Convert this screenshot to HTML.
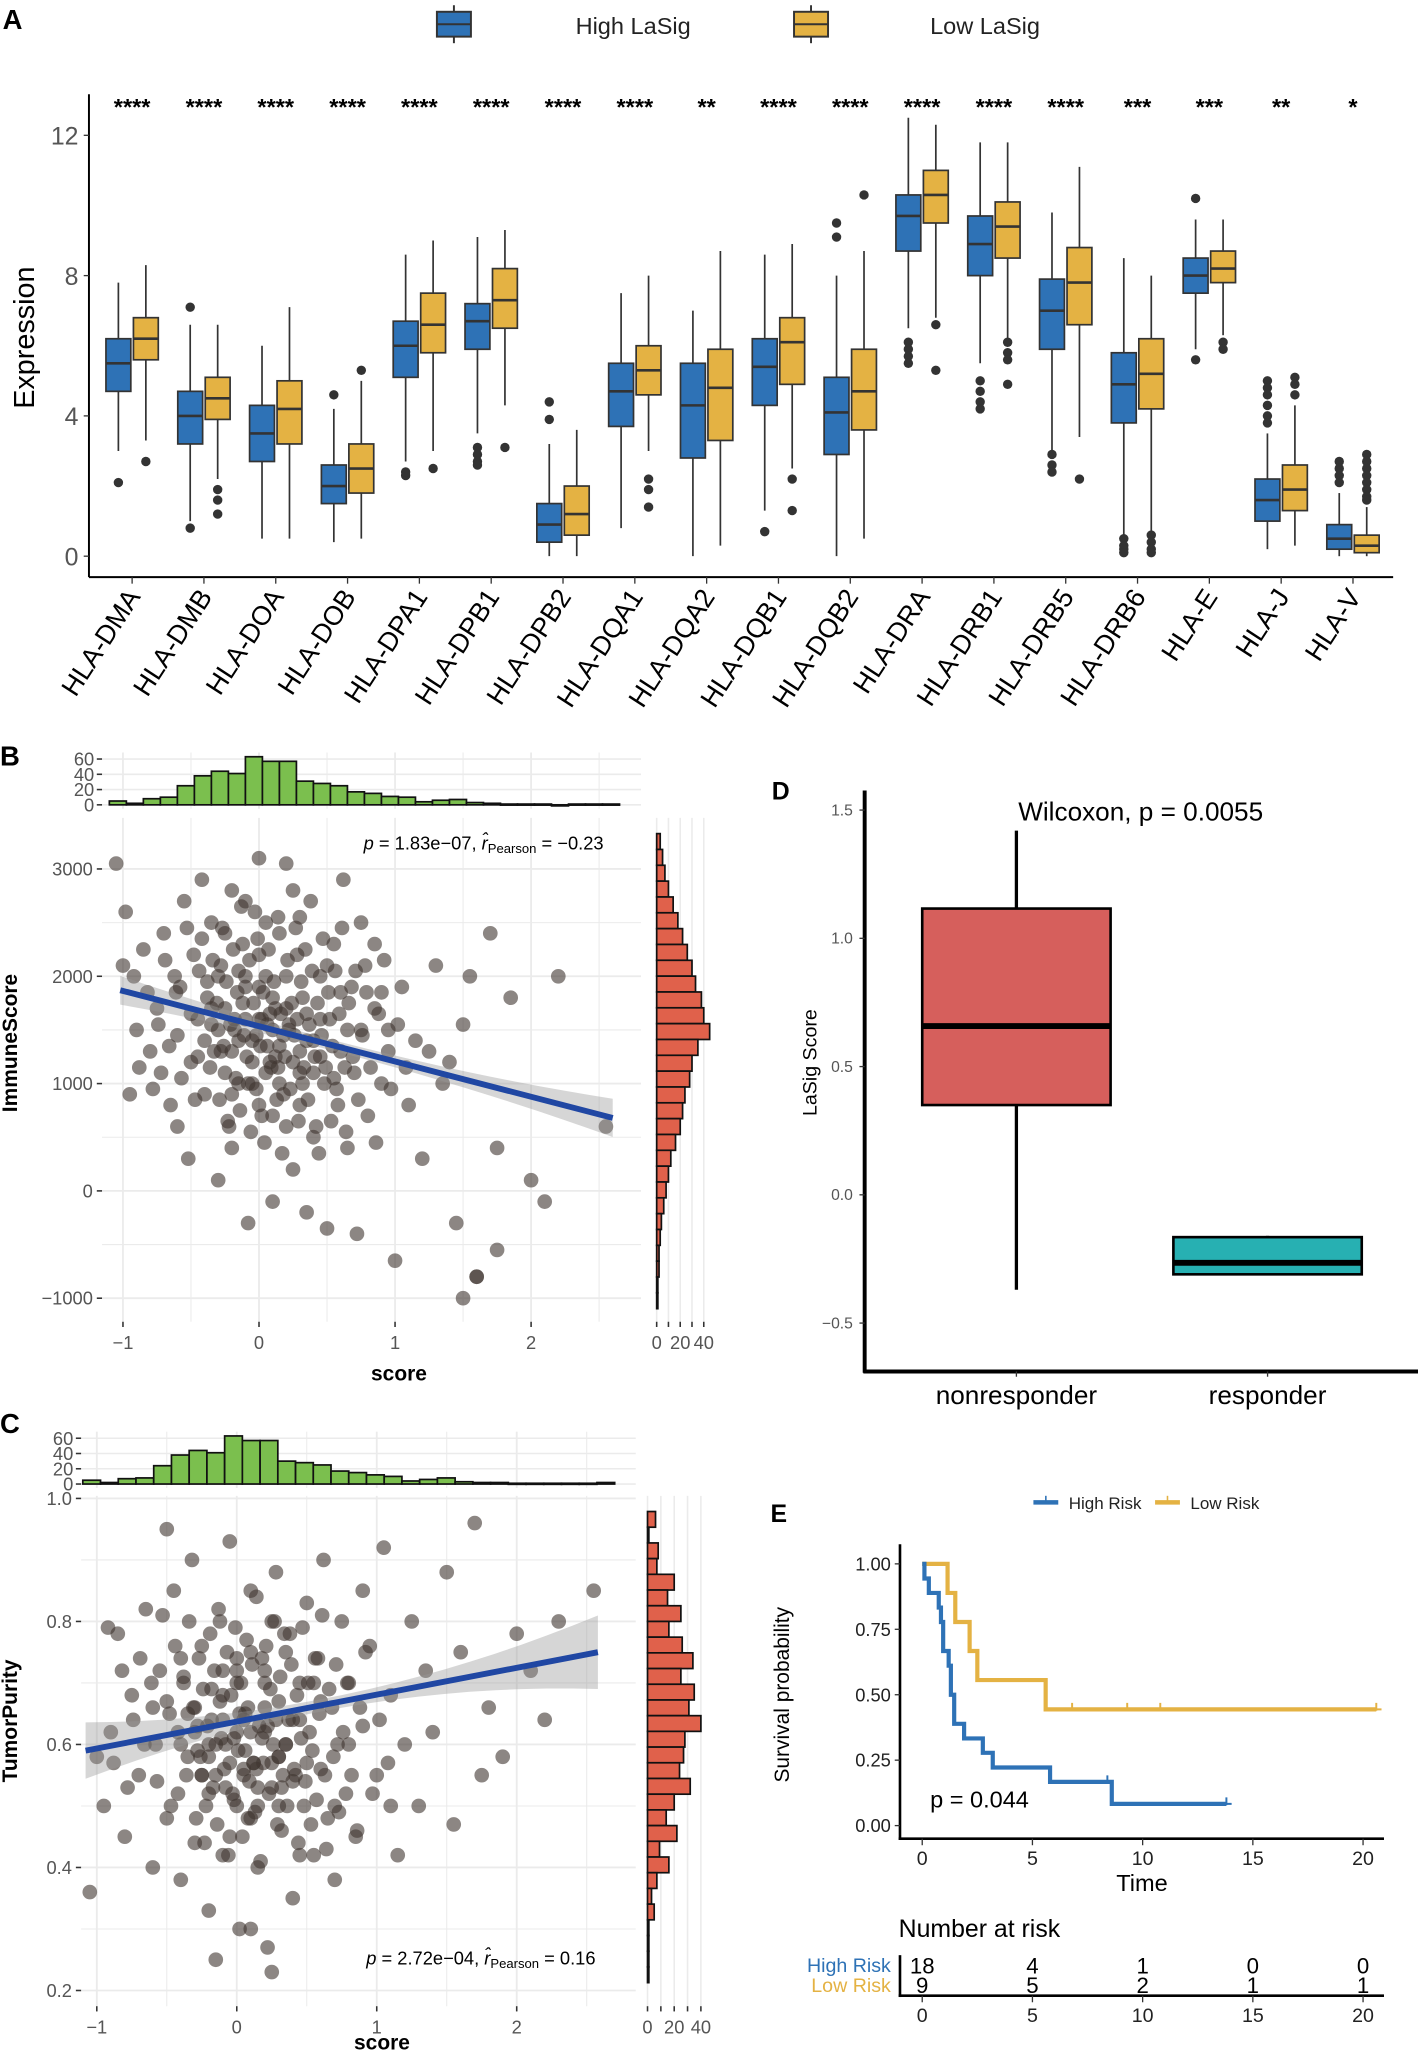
<!DOCTYPE html>
<html><head><meta charset="utf-8">
<style>
html,body{margin:0;padding:0;background:#fff;}
svg{display:block;font-family:"Liberation Sans",Arial,sans-serif;}
</style></head>
<body>
<svg id="fig" xmlns="http://www.w3.org/2000/svg" width="1418" height="2052" viewBox="0 0 1084 1568" preserveAspectRatio="none">
<rect x="0" y="0" width="1084" height="1568" fill="#fff"/>
</svg>
<script>
// ---------- Panel A data ----------
const genes = ["HLA-DMA","HLA-DMB","HLA-DOA","HLA-DOB","HLA-DPA1","HLA-DPB1","HLA-DPB2","HLA-DQA1","HLA-DQA2","HLA-DQB1","HLA-DQB2","HLA-DRA","HLA-DRB1","HLA-DRB5","HLA-DRB6","HLA-E","HLA-J","HLA-V"];
const sigStars = ["****","****","****","****","****","****","****","****","**","****","****","****","****","****","***","***","**","*"];
// [low whisker, q1, median, q3, high whisker]
const highBoxes = [[3.0,4.7,5.5,6.2,7.8],[1.0,3.2,4.0,4.7,6.6],[0.5,2.7,3.5,4.3,6.0],[0.4,1.5,2.0,2.6,4.2],[2.7,5.1,6.0,6.7,8.6],[3.5,5.9,6.7,7.2,9.1],[0,0.4,0.9,1.5,3.2],[0.8,3.7,4.7,5.5,7.5],[0,2.8,4.3,5.5,7.0],[1.3,4.3,5.4,6.2,8.6],[0,2.9,4.1,5.1,8.0],[6.5,8.7,9.7,10.3,12.5],[5.5,8.0,8.9,9.7,11.8],[3.0,5.9,7.0,7.9,9.8],[0.4,3.8,4.9,5.8,8.5],[5.9,7.5,8.0,8.5,9.6],[0.2,1.0,1.6,2.2,3.5],[0,0.2,0.5,0.9,1.8]];
const lowBoxes = [[3.3,5.6,6.2,6.8,8.3],[2.2,3.9,4.5,5.1,6.6],[0.5,3.2,4.2,5.0,7.1],[0.5,1.8,2.5,3.2,5.0],[3.0,5.8,6.6,7.5,9.0],[4.3,6.5,7.3,8.2,9.3],[0,0.6,1.2,2.0,3.6],[3.0,4.6,5.3,6.0,8.0],[0.3,3.3,4.8,5.9,8.7],[2.5,4.9,6.1,6.8,8.9],[0.5,3.6,4.7,5.9,8.7],[6.8,9.5,10.3,11.0,12.3],[6.1,8.5,9.4,10.1,11.8],[3.4,6.6,7.8,8.8,11.1],[0.7,4.2,5.2,6.2,8.0],[6.3,7.8,8.2,8.7,9.6],[0.3,1.3,1.9,2.6,4.3],[0,0.1,0.3,0.6,1.4]];
const highOut = [[2.1],[7.1,0.8],[],[4.6],[2.3,2.4],[3.1,2.9,2.7,2.6],[4.4,3.9],[],[],[0.7],[9.5,9.1],[6.1,5.9,5.7,5.5],[5.0,4.7,4.4,4.2],[2.9,2.6,2.4],[0.5,0.3,0.2,0.1],[10.2,5.6],[5.0,4.8,4.6,4.3,4.0,3.8],[2.7,2.5,2.3,2.1]];
const lowOut = [[2.7],[1.9,1.6,1.2],[],[5.3],[2.5],[3.1],[],[2.2,1.9,1.4],[],[2.2,1.3],[10.3],[6.6,5.3],[6.1,5.8,5.6,4.9],[2.2],[0.6,0.4,0.2,0.1],[6.1,5.9],[5.1,4.9,4.6],[2.9,2.7,2.5,2.3,2.1,1.9,1.7,1.6]];
const aTicks = [0,4,8,12];

// ---------- Panel B data ----------
const bScore = [-1.05,-0.98,-1.0,-0.9,-0.95,-0.8,-0.85,-0.75,-0.7,-0.72,-0.65,-0.62,-0.6,-0.58,-0.55,-0.5,-0.52,-0.48,-0.45,-0.42,-0.4,-0.38,-0.35,-0.33,-0.3,-0.28,-0.25,-0.22,-0.2,-0.18,-0.15,-0.12,-0.1,-0.08,-0.05,-0.03,0,0.02,0.05,0.08,0.1,0.12,0.15,0.18,0.2,0.22,0.25,0.28,0.3,0.32,0.35,0.38,0.4,0.42,0.45,0.48,0.5,0.52,0.55,0.58,0.6,0.62,0.65,0.68,0.7,0.72,0.75,0.78,0.8,0.85,0.9,0.95,1.0,1.05,1.1,1.15,1.2,1.3,1.4,1.5,1.55,1.6,1.7,1.75,1.85,2.0,2.1,2.2,2.55,1.5,1.35,0.95,-0.3,-0.1,0.15,0.35,-0.45,0.6,-0.2,0.05,0.25,0.45,0.75,0.85,-0.6,0.3,-0.05,0.1,0.55,-0.35,1.25,0.9,0.4,-0.15,0.2,0.65,-0.25,0.0,0.5];
const bImmune = [3050,2600,2100,1500,900,1300,2250,1700,2400,1100,800,2000,1450,1900,2700,1200,300,2200,1600,2900,900,1800,2500,1300,100,2100,1700,600,2800,1500,1000,2300,1900,-300,1400,2600,3100,700,2000,1200,-100,1700,2400,900,3050,1500,200,2200,1100,1800,-200,2700,1400,600,2000,1000,-350,1600,2300,800,1300,2900,400,1900,1100,-400,1500,2100,700,1700,1000,1300,-650,1900,800,1400,300,2100,1200,1550,2000,-800,2400,400,1800,100,-100,2000,600,-1000,1000,1500,2000,2700,1350,1650,1250,1850,400,2500,2800,1250,2500,2300,600,2550,1000,1800,1050,1550,1300,1850,500,2050,600,1500,2400,1600,2100];
const bExtra = [[-0.42,2350],[-0.38,1950],[-0.36,1150],[-0.34,2150],[-0.31,1750],[-0.29,850],[-0.27,2450],[-0.26,1350],[-0.24,1950],[-0.23,650],[-0.21,1550],[-0.19,2250],[-0.17,1050],[-0.16,1850],[-0.14,750],[-0.13,2650],[-0.11,1450],[-0.09,1250],[-0.07,2150],[-0.06,550],[-0.04,1750],[-0.02,950],[-0.01,2350],[0.01,1350],[0.03,1850],[0.04,450],[0.06,1550],[0.07,2250],[0.09,1150],[0.11,1950],[0.13,850],[0.14,2550],[0.16,1650],[0.17,350],[0.19,1250],[0.21,2150],[0.23,950],[0.24,1750],[0.26,1450],[0.27,2450],[0.29,650],[0.31,1950],[0.33,1150],[0.34,2250],[0.36,850],[0.37,1550],[0.39,2050],[0.41,1250],[0.43,1750],[0.44,350],[0.46,1450],[0.47,2350],[0.49,1150],[0.51,1850],[0.53,650],[0.54,1350],[0.56,2050],[0.57,950],[0.59,1650],[0.61,2450],[0.63,1150],[0.64,550],[0.66,1750],[0.69,1250],[0.71,2050],[0.73,850],[0.76,1450],[0.79,1850],[0.82,1150],[0.86,450],[0.88,1650],[0.92,2150],[0.97,950],[1.02,1550],[1.08,1150],[-0.5,1650],[-0.47,850],[-0.44,2050],[-0.53,2450],[-0.57,1050],[-0.61,1850],[-0.66,1350],[-0.69,2150],[-0.74,1550],[-0.78,950],[-0.82,1850],[-0.88,1150],[-0.92,2000],[-0.4,1400],[-0.2,1300],[0.0,1900],[0.1,1500],[0.2,1700],[0.3,1300],[-0.1,1600],[-0.3,1500],[0.05,1100],[0.15,1000],[0.25,1200],[-0.05,1200],[-0.15,1400],[0.35,1400],[0.45,1600],[0.0,800],[0.1,700],[-0.2,900],[0.3,800],[0.2,2000],[-0.1,2000],[0.0,2200],[-0.25,1100],[0.12,1250],[-0.02,1450],[0.08,1650],[0.18,1450],[-0.12,1750],[0.28,1600],[-0.35,1700],[0.4,1100],[-0.08,1000],[0.22,1550],[0.06,1350],[-0.18,1600],[0.32,1000],[0.14,1150],[0.02,1600],[-0.28,1300],[1.6,-800],[1.75,-550],[1.45,-300]];
const bTopCounts = [5,2,8,10,25,38,44,41,63,57,57,31,28,25,17,15,11,10,4,6,7,3,2,1,1,1,0,1,1,1];
const bRightCounts = [3,5,7,10,14,18,22,26,30,33,38,40,45,35,30,28,24,22,20,16,12,10,8,6,4,3,2,2,1,1];
const bYTicks = [-1000,0,1000,2000,3000];
const bXTicks = [-1,0,1,2];

// ---------- Panel C data ----------
const cScore = [-1.05,-1.0,-0.95,-0.9,-0.85,-0.8,-0.75,-0.7,-0.65,-0.6,-0.58,-0.55,-0.5,-0.48,-0.45,-0.42,-0.4,-0.38,-0.35,-0.32,-0.3,-0.28,-0.25,-0.22,-0.2,-0.18,-0.15,-0.12,-0.1,-0.08,-0.05,-0.03,0,0.02,0.05,0.08,0.1,0.12,0.15,0.18,0.2,0.22,0.25,0.28,0.3,0.32,0.35,0.38,0.4,0.42,0.45,0.48,0.5,0.52,0.55,0.58,0.6,0.62,0.65,0.68,0.7,0.72,0.75,0.78,0.8,0.85,0.9,0.95,1.0,1.05,1.1,1.15,1.2,1.25,1.3,1.35,1.4,1.5,1.55,1.6,1.7,1.8,1.9,2.0,2.1,2.2,2.3,2.55,1.75,-0.15,0.25,0.1,-0.5,0.0,0.2,-0.1,0.05,0.3,-0.3,0.15,0.4,-0.2,0.6,0.5,-0.4,0.7,0.35,-0.05,0.45,0.9,1.1,0.8,-0.6,0.25,0.1,-0.25,0.55];
const cPurity = [0.36,0.58,0.5,0.62,0.78,0.45,0.68,0.55,0.82,0.4,0.6,0.72,0.48,0.65,0.85,0.52,0.38,0.7,0.58,0.9,0.44,0.63,0.76,0.5,0.33,0.69,0.55,0.8,0.42,0.6,0.93,0.52,0.72,0.3,0.64,0.48,0.85,0.57,0.4,0.74,0.62,0.27,0.53,0.88,0.67,0.46,0.6,0.78,0.35,0.55,0.7,0.5,0.83,0.62,0.42,0.74,0.56,0.9,0.48,0.66,0.38,0.6,0.8,0.52,0.7,0.45,0.63,0.76,0.55,0.92,0.68,0.42,0.6,0.8,0.5,0.72,0.62,0.88,0.47,0.75,0.96,0.66,0.58,0.78,0.72,0.64,0.8,0.85,0.55,0.25,0.23,0.3,0.95,0.62,0.7,0.68,0.56,0.58,0.66,0.5,0.64,0.6,0.67,0.57,0.74,0.5,0.75,0.45,0.42,0.85,0.5,0.6,0.66,0.8,0.75,0.55,0.7];
const cExtra = [[-0.42,0.62],[-0.38,0.71],[-0.36,0.55],[-0.34,0.8],[-0.31,0.66],[-0.29,0.48],[-0.27,0.74],[-0.26,0.58],[-0.24,0.69],[-0.23,0.44],[-0.21,0.63],[-0.19,0.78],[-0.17,0.53],[-0.16,0.72],[-0.14,0.47],[-0.13,0.82],[-0.11,0.61],[-0.09,0.56],[-0.07,0.75],[-0.06,0.42],[-0.04,0.68],[-0.02,0.51],[-0.01,0.79],[0.01,0.59],[0.03,0.7],[0.04,0.45],[0.06,0.65],[0.07,0.77],[0.09,0.54],[0.11,0.73],[0.13,0.49],[0.14,0.84],[0.16,0.63],[0.17,0.41],[0.19,0.57],[0.21,0.76],[0.23,0.52],[0.24,0.69],[0.26,0.6],[0.27,0.8],[0.29,0.47],[0.31,0.71],[0.33,0.55],[0.34,0.78],[0.36,0.5],[0.37,0.64],[0.39,0.73],[0.41,0.56],[0.43,0.68],[0.44,0.44],[0.46,0.61],[0.47,0.79],[0.49,0.54],[0.51,0.7],[0.53,0.47],[0.54,0.59],[0.56,0.74],[0.57,0.51],[0.59,0.65],[0.61,0.81],[0.63,0.55],[0.64,0.43],[0.66,0.69],[0.69,0.58],[0.71,0.73],[0.73,0.49],[0.76,0.62],[0.79,0.7],[0.82,0.55],[0.86,0.46],[0.88,0.66],[0.92,0.75],[0.97,0.52],[1.02,0.64],[1.08,0.57],[-0.5,0.67],[-0.47,0.5],[-0.44,0.76],[-0.53,0.81],[-0.57,0.54],[-0.61,0.7],[-0.66,0.6],[-0.69,0.74],[-0.74,0.64],[-0.78,0.53],[-0.82,0.72],[-0.88,0.57],[-0.92,0.79],[-0.4,0.6],[-0.2,0.58],[0.0,0.7],[0.1,0.62],[0.2,0.66],[0.3,0.58],[-0.1,0.64],[-0.3,0.62],[0.05,0.55],[0.15,0.53],[0.25,0.57],[-0.05,0.57],[-0.15,0.6],[0.35,0.6],[0.45,0.64],[0.0,0.5],[0.1,0.48],[-0.2,0.52],[0.3,0.5],[0.2,0.72],[-0.1,0.72],[0.0,0.74],[-0.25,0.55],[0.12,0.57],[-0.02,0.61],[0.08,0.66],[0.18,0.61],[-0.12,0.67],[0.28,0.64],[-0.35,0.65],[0.4,0.54],[-0.08,0.53],[0.22,0.63],[0.06,0.59],[-0.18,0.64],[0.32,0.53],[0.14,0.56],[0.02,0.65],[-0.28,0.59]];
const cTopCounts = [5,2,7,8,24,38,44,41,63,57,57,30,28,25,17,15,12,10,4,6,8,3,2,2,1,1,1,1,1,2];
const cRightCounts = [6,1,8,7,20,15,25,16,26,34,25,35,31,40,28,27,24,32,20,14,22,9,16,7,3,5,1,1,1,1];
const cYTicks = [0.2,0.4,0.6,0.8,1.0];
const cXTicks = [-1,0,1,2];

// ---------- Panel D data ----------
const dGroups = ["nonresponder","responder"];
const dBoxes = [[-0.37,0.35,0.658,1.116,1.42],[-0.31,-0.31,-0.265,-0.165,-0.16]];
const dColors = ["#d65f5c","#27b0b2"];
const dTicks = [-0.5,0.0,0.5,1.0,1.5];

// ---------- Panel E data ----------
const highTimes = [0,0.1,0.3,0.75,0.85,0.95,1.2,1.3,1.45,1.9,2.75,3.2,5.8,8.6];
const highSurv  = [1,0.944,0.889,0.833,0.778,0.667,0.611,0.5,0.389,0.333,0.278,0.222,0.167,0.083];
const highEnd = 13.8;
const highCensor = [8.4,13.8];
const lowTimes = [0,1.15,1.5,2.15,2.5,5.6];
const lowSurv  = [1,0.889,0.778,0.667,0.556,0.444];
const lowEnd = 20.6;
const lowCensor = [6.8,9.3,10.8,20.6];
const riskTimes = [0,5,10,15,20];
const riskHigh = [18,4,1,0,0];
const riskLow = [9,5,2,1,1];
const eYTicks = [0,0.25,0.5,0.75,1.0];

// ---------- drawing ----------
const svg = document.getElementById('fig');
const NS = 'http://www.w3.org/2000/svg';
function mk(tag, attrs, parent){
  const e = document.createElementNS(NS, tag);
  for (const k in attrs) e.setAttribute(k, attrs[k]);
  (parent||svg).appendChild(e);
  return e;
}
function txt(s, attrs, parent){ const t = mk('text', attrs, parent); t.textContent = s; return t; }
const BLUE = "#2e72b6", YEL = "#e4b243";

// ===== Panel A =====
const gA = mk('g', {});


const ay = v => 425 - v * 26.8;
const ax = i => 101 + i * 54.9;
let t = txt('A', {x:2, y:22, 'font-size':21, 'font-weight':'bold'}, gA);


[[BLUE,347,'High LaSig',440],[YEL,620,'Low LaSig',711]].forEach((L,k)=>{
  const lg = mk('g', {}, gA);
  
  
  mk('line', {x1:L[1], x2:L[1], y1:4, y2:33, stroke:'#333', 'stroke-width':1.5}, lg);
  mk('rect', {x:L[1]-13, y:9, width:26, height:19, fill:L[0], stroke:'#333', 'stroke-width':1.5}, lg);
  mk('line', {x1:L[1]-13, x2:L[1]+13, y1:18.5, y2:18.5, stroke:'#333', 'stroke-width':1.5}, lg);
  txt(L[2], {x:L[3], y:26, 'font-size':18, fill:'#222'}, lg);
});
let a1 = mk('line', {x1:68, x2:68, y1:72, y2:441, stroke:'#000', 'stroke-width':1.5}, gA);


let a2 = mk('line', {x1:68, x2:1065, y1:441, y2:441, stroke:'#000', 'stroke-width':1.5}, gA);


aTicks.forEach(v=>{
  mk('line', {x1:64, x2:68, y1:ay(v), y2:ay(v), stroke:'#333'}, gA);
  const tl = txt(String(v), {x:60, y:ay(v)+7, 'font-size':19, fill:'#555', 'text-anchor':'end'}, gA);
  
  
});
t = txt('Expression', {x:0, y:0, 'font-size':22, transform:'translate(26,258) rotate(-90)', 'text-anchor':'middle'}, gA);


function drawBox(g, cx, w, b, fill, outs, lw, medw){
  mk('line', {x1:cx, x2:cx, y1:ay(b[0]), y2:ay(b[4]), stroke:'#333', 'stroke-width':lw}, g);
  mk('rect', {x:cx-w/2, y:ay(b[3]), width:w, height:ay(b[1])-ay(b[3]), fill:fill, stroke:'#333', 'stroke-width':lw}, g);
  mk('line', {x1:cx-w/2, x2:cx+w/2, y1:ay(b[2]), y2:ay(b[2]), stroke:'#333', 'stroke-width':medw}, g);
  outs.forEach(o=>{ const c = mk('circle', {cx:cx, cy:ay(o), r:3.6, fill:'#333'}, g);
    
    
  });
}
genes.forEach((gname,i)=>{
  const g = mk('g', {}, gA);
  
  
  const hb = mk('g', {}, g);
  
  
  drawBox(hb, ax(i)-10.5, 19, highBoxes[i], BLUE, highOut[i], 1.3, 2);
  const lb = mk('g', {}, g);
  
  
  drawBox(lb, ax(i)+10.5, 19, lowBoxes[i], YEL, lowOut[i], 1.3, 2);
  const st = txt(sigStars[i], {x:ax(i), y:88, 'font-size':18, 'text-anchor':'middle', 'font-weight':'bold'}, g);
  
  
  mk('line', {x1:ax(i), x2:ax(i), y1:441, y2:446, stroke:'#333'}, g);
  const xl = txt(gname, {x:0, y:0, 'font-size':20.5, 'text-anchor':'end', fill:'#000', transform:`translate(${ax(i)+7},456) rotate(-57)`}, g);
  
  
});

// ===== scatter panels (B, C) =====
function scatterPanel(opt){
  const g = mk('g', {});
  
  
  const X = v => opt.x0 + v*opt.xs;
  const Y = v => opt.y0 - (v-opt.yBase)*opt.ys;
  const lab = txt(opt.label, {x:opt.labelX, y:opt.labelY, 'font-size':21, 'font-weight':'bold'}, g);
  
  
  const L = opt.L, R = opt.R, T = opt.T, B = opt.B;
  for (let v = opt.xMin; v <= opt.xMax + 1e-9; v += 0.5){
    const major = Math.abs(v-Math.round(v))<1e-9;
    mk('line', {x1:X(v), x2:X(v), y1:T, y2:B, stroke:'#ebebeb', 'stroke-width': major?1.4:0.8}, g);
    mk('line', {x1:X(v), x2:X(v), y1:opt.htTop, y2:opt.htBot+3, stroke:'#ebebeb', 'stroke-width':major?1.4:0.8}, g);
  }
  for (let k = 0; k < opt.yGrid.length; k++){
    const v = opt.yGrid[k];
    mk('line', {x1:L, x2:R, y1:Y(v), y2:Y(v), stroke:'#ebebeb', 'stroke-width': (k%2===0)?1.4:0.8}, g);
  }
  const hy = c => opt.htBot - c*opt.htScale;
  [0,20,40,60].forEach(c=>{
    mk('line', {x1:L, x2:R, y1:hy(c), y2:hy(c), stroke:'#ebebeb', 'stroke-width':1.2}, g);
    mk('line', {x1:L-4, x2:L, y1:hy(c), y2:hy(c), stroke:'#333', 'stroke-width':1.2}, g);
    txt(String(c), {x:L-6, y:hy(c)+5, 'font-size':14, fill:'#555', 'text-anchor':'end'}, g);
  });
  const bw = (opt.histXMax - opt.histXMin)/opt.topCounts.length;
  opt.topCounts.forEach((c,k)=>{
    const r = mk('rect', {x:X(opt.histXMin + k*bw), y:hy(c), width:bw*opt.xs, height:Math.max(c*opt.htScale,0.8), fill:'#7bbf4e', stroke:'#111', 'stroke-width':1.3}, g);
    
    
  });
  const rx = c => opt.hrLeft + c*opt.hrScale;
  [0,10,20,30,40].forEach(c=>{
    mk('line', {x1:rx(c), x2:rx(c), y1:T, y2:B, stroke:'#ebebeb', 'stroke-width':1.2}, g);
    mk('line', {x1:rx(c), x2:rx(c), y1:B, y2:B+4, stroke:'#333', 'stroke-width':1.2}, g);
  });
  [0,20,40].forEach(c=>{
    txt(String(c), {x:rx(c), y:B+21, 'font-size':14, fill:'#555', 'text-anchor':'middle'}, g);
  });
  const bh = (opt.hrBot - opt.hrTop)/opt.rightCounts.length;
  opt.rightCounts.forEach((c,k)=>{
    const r = mk('rect', {x:rx(0), y:opt.hrTop + k*bh, width:Math.max(c*opt.hrScale,0.8), height:bh, fill:'#e0614b', stroke:'#111', 'stroke-width':1.3}, g);
    
    
  });
  opt.yTicks.forEach(v=>{
    mk('line', {x1:L-4, x2:L, y1:Y(v), y2:Y(v), stroke:'#333', 'stroke-width':1.2}, g);
    const tl = txt(opt.yFmt(v), {x:L-7, y:Y(v)+5, 'font-size':14, fill:'#555', 'text-anchor':'end'}, g);
    
    
  });
  opt.xTicks.forEach(v=>{
    mk('line', {x1:X(v), x2:X(v), y1:B, y2:B+4, stroke:'#333', 'stroke-width':1.2}, g);
    const tl = txt(v<0 ? '\u2212'+Math.abs(v) : String(v), {x:X(v), y:B+21, 'font-size':14, fill:'#555', 'text-anchor':'middle'}, g);
    
    
  });
  const xs0 = opt.fitX[0], xs1 = opt.fitX[1];
  const fit = v => opt.fitY[0] + (opt.fitY[1]-opt.fitY[0])*(v-xs0)/(xs1-xs0);
  const hw = v => opt.ciMin + opt.ciGrow*Math.pow((v-opt.ciMid)/(xs1-xs0),2);
  let up = [], dn = [];
  for (let k=0;k<=20;k++){ const v = xs0 + (xs1-xs0)*k/20; up.push(X(v)+','+Y(fit(v)+hw(v))); dn.unshift(X(v)+','+Y(fit(v)-hw(v))); }
  const pts = mk('g', {}, g);
  
  
  const n = Math.min(opt.xs_data.length, opt.ys_data.length);
  const all = [];
  for (let k=0;k<n;k++) all.push([opt.xs_data[k], opt.ys_data[k]]);
  opt.extra.forEach(p=>all.push(p));
  all.forEach(p=>{
    const c = mk('circle', {cx:X(p[0]), cy:Y(p[1]), r:5.6, fill:'#3f3530', 'fill-opacity':0.6}, pts);
    
    
  });
  const band = mk('polygon', {points:up.concat(dn).join(' '), fill:'#999', 'fill-opacity':0.4}, g);
  
  
  const ln = mk('line', {x1:X(xs0), y1:Y(fit(xs0)), x2:X(xs1), y2:Y(fit(xs1)), stroke:'#2047a3', 'stroke-width':4.5}, g);
  
  
  const an = mk('text', {x:opt.annX, y:opt.annY, 'font-size':14}, g);
  
  
  an.innerHTML = '<tspan font-style="italic">p</tspan> = ' + opt.pval + ', <tspan font-style="italic">r\u0302</tspan><tspan font-size="10" dy="3">Pearson</tspan><tspan dy="-3"> = ' + opt.rval + '</tspan>';
  const xt = txt('score', {x:opt.xTitleX, y:opt.xTitleY, 'font-size':16, 'font-weight':'bold', 'text-anchor':'middle'}, g);
  
  
  const yt = txt(opt.yTitle, {x:0, y:0, 'font-size':16, 'font-weight':'bold', 'text-anchor':'middle', transform:`translate(${opt.yTitleX},${opt.yTitleY}) rotate(-90)`}, g);
  
  
}

scatterPanel({name:'panel-b', label:'B', labelX:0, labelY:585,
  x0:198, xs:104, y0:910, yBase:0, ys:0.082,
  L:78, R:490, T:625, B:1010, xMin:-1, xMax:2.5,
  yGrid:[-1000,-500,0,500,1000,1500,2000,2500,3000],
  htTop:575, htBot:615, htScale:35/60, histXMin:-1.1, histXMax:2.65,
  topCounts:bTopCounts, hrLeft:502, hrScale:0.9, hrTop:637, hrBot:1000, rightCounts:bRightCounts,
  yTicks:bYTicks, xTicks:bXTicks, yFmt:v=> v<0 ? '\u2212'+Math.abs(v) : String(v),
  fitX:[-1.02,2.6], fitY:[1870,680], ciMin:50, ciGrow:420, ciMid:0.6,
  xs_data:bScore, ys_data:bImmune, extra:bExtra, annX:278, annY:649, pval:'1.83e\u221207', rval:'\u22120.23',
  xTitleX:305, xTitleY:1055, yTitle:'ImmuneScore', yTitleX:13, yTitleY:797});

scatterPanel({name:'panel-c', label:'C', labelX:0, labelY:1095,
  x0:181, xs:107, y0:1521, yBase:0.2, ys:470,
  L:62, R:486, T:1143, B:1533, xMin:-1, xMax:2.5,
  yGrid:[0.2,0.3,0.4,0.5,0.6,0.7,0.8,0.9,1.0],
  htTop:1094, htBot:1134, htScale:35/60, histXMin:-1.1, histXMax:2.7,
  topCounts:cTopCounts, hrLeft:495, hrScale:1.02, hrTop:1155, hrBot:1515, rightCounts:cRightCounts,
  yTicks:cYTicks, xTicks:cXTicks, yFmt:v=>v.toFixed(1),
  fitX:[-1.08,2.58], fitY:[0.59,0.75], ciMin:0.01, ciGrow:0.17, ciMid:0.6,
  xs_data:cScore, ys_data:cPurity, extra:cExtra, annX:280, annY:1501, pval:'2.72e\u221204', rval:'0.16',
  xTitleX:292, xTitleY:1566, yTitle:'TumorPurity', yTitleX:13, yTitleY:1315});

// ===== Panel D =====
const gD = mk('g', {});


const dy = v => 913 - v*196;
const dx = i => 777 + i*192;
t = txt('D', {x:590, y:611, 'font-size':19, 'font-weight':'bold'}, gD);


mk('line', {x1:661, x2:661, y1:604, y2:1049, stroke:'#000', 'stroke-width':3}, gD);
mk('line', {x1:660, x2:1084, y1:1048, y2:1048, stroke:'#000', 'stroke-width':3}, gD);
dTicks.forEach(v=>{
  mk('line', {x1:657, x2:661, y1:dy(v), y2:dy(v), stroke:'#333'}, gD);
  const tl = txt(v<0 ? '\u2212'+Math.abs(v).toFixed(1) : v.toFixed(1), {x:652, y:dy(v)+4, 'font-size':12, fill:'#555', 'text-anchor':'end'}, gD);
  
  
});
t = txt('LaSig Score', {x:0, y:0, 'font-size':15, 'text-anchor':'middle', transform:'translate(624,812) rotate(-90)'}, gD);


t = txt('Wilcoxon, p = 0.0055', {x:872, y:627, 'font-size':20, 'text-anchor':'middle'}, gD);


dGroups.forEach((gn,i)=>{
  const b = dBoxes[i];
  const bg = mk('g', {}, gD);
  
  
  mk('line', {x1:dx(i), x2:dx(i), y1:dy(b[0]), y2:dy(b[4]), stroke:'#000', 'stroke-width':2.5}, bg);
  mk('rect', {x:dx(i)-72, y:dy(b[3]), width:144, height:dy(b[1])-dy(b[3]), fill:dColors[i], stroke:'#000', 'stroke-width':2}, bg);
  mk('line', {x1:dx(i)-72, x2:dx(i)+72, y1:dy(b[2]), y2:dy(b[2]), stroke:'#000', 'stroke-width':4.5}, bg);
  mk('line', {x1:dx(i), x2:dx(i), y1:1048, y2:1052, stroke:'#333'}, gD);
  const xl = txt(gn, {x:dx(i), y:1073, 'font-size':20, 'text-anchor':'middle'}, gD);
  
  
});

// ===== Panel E =====
const gE = mk('g', {});


const ex = v => 705 + v*16.85;
const ey = v => 1395 - v*200;
t = txt('E', {x:589, y:1163, 'font-size':19, 'font-weight':'bold'}, gE);


[[BLUE,790,'High Risk'],[YEL,883,'Low Risk']].forEach((L,k)=>{
  const lg = mk('g', {}, gE);
  
  
  mk('line', {x1:L[1], x2:L[1]+19, y1:1148, y2:1148, stroke:L[0], 'stroke-width':3.5}, lg);
  mk('line', {x1:L[1]+9.5, x2:L[1]+9.5, y1:1143, y2:1148, stroke:L[0], 'stroke-width':1.2}, lg);
  txt(L[2], {x:L[1]+27, y:1153, 'font-size':13, fill:'#222'}, lg);
});
mk('line', {x1:688, x2:688, y1:1180, y2:1406, stroke:'#000', 'stroke-width':2}, gE);
mk('line', {x1:687, x2:1058, y1:1405, y2:1405, stroke:'#000', 'stroke-width':2}, gE);
eYTicks.forEach(v=>{
  mk('line', {x1:684, x2:688, y1:ey(v), y2:ey(v), stroke:'#333'}, gE);
  const tl = txt(v.toFixed(2), {x:681, y:ey(v)+5, 'font-size':14, fill:'#222', 'text-anchor':'end'}, gE);
  
  
});
riskTimes.forEach(v=>{
  mk('line', {x1:ex(v), x2:ex(v), y1:1405, y2:1410, stroke:'#333'}, gE);
  const tl = txt(String(v), {x:ex(v), y:1425, 'font-size':15, fill:'#222', 'text-anchor':'middle'}, gE);
  
  
});
t = txt('Survival probability', {x:0, y:0, 'font-size':16, 'text-anchor':'middle', transform:'translate(603,1295) rotate(-90)'}, gE);


t = txt('Time', {x:873, y:1445, 'font-size':18, 'text-anchor':'middle'}, gE);


t = txt('p = 0.044', {x:711, y:1381, 'font-size':18}, gE);


function km(times, surv, end, cens, color, name){
  let d = 'M' + ex(times[0]) + ',' + ey(surv[0]);
  for (let k=1;k<times.length;k++){ d += ' H' + ex(times[k]) + ' V' + ey(surv[k]); }
  d += ' H' + ex(end);
  const p = mk('path', {d:d, fill:'none', stroke:color, 'stroke-width':3.2}, gE);
  
  
  cens.forEach(c=>{
    let s = surv[0];
    for (let k=0;k<times.length;k++) if (times[k] <= c) s = surv[k];
    const m = mk('path', {d:`M${ex(c)-4},${ey(s)} H${ex(c)+4} M${ex(c)},${ey(s)-5} V${ey(s)+1}`, stroke:color, 'stroke-width':1.5, fill:'none'}, gE);
    
    
  });
}
km(lowTimes, lowSurv, lowEnd, lowCensor, YEL, 'curve-low-risk');
km(highTimes, highSurv, highEnd, highCensor, BLUE, 'curve-high-risk');
t = txt('Number at risk', {x:687, y:1480, 'font-size':19}, gE);


mk('line', {x1:688, x2:688, y1:1494, y2:1526, stroke:'#000', 'stroke-width':2}, gE);
mk('line', {x1:687, x2:1058, y1:1525, y2:1525, stroke:'#000', 'stroke-width':2}, gE);
t = txt('High Risk', {x:681, y:1507, 'font-size':15, fill:BLUE, 'text-anchor':'end'}, gE);


t = txt('Low Risk', {x:681, y:1522, 'font-size':15, fill:YEL, 'text-anchor':'end'}, gE);


riskTimes.forEach((v,k)=>{
  const a = txt(String(riskHigh[k]), {x:ex(v), y:1508, 'font-size':17, 'text-anchor':'middle'}, gE);
  
  
  const b = txt(String(riskLow[k]), {x:ex(v), y:1523, 'font-size':17, 'text-anchor':'middle'}, gE);
  
  
  mk('line', {x1:ex(v), x2:ex(v), y1:1525, y2:1530, stroke:'#333'}, gE);
  const c = txt(String(v), {x:ex(v), y:1545, 'font-size':15, fill:'#222', 'text-anchor':'middle'}, gE);
  
  
});
</script>
</body></html>
